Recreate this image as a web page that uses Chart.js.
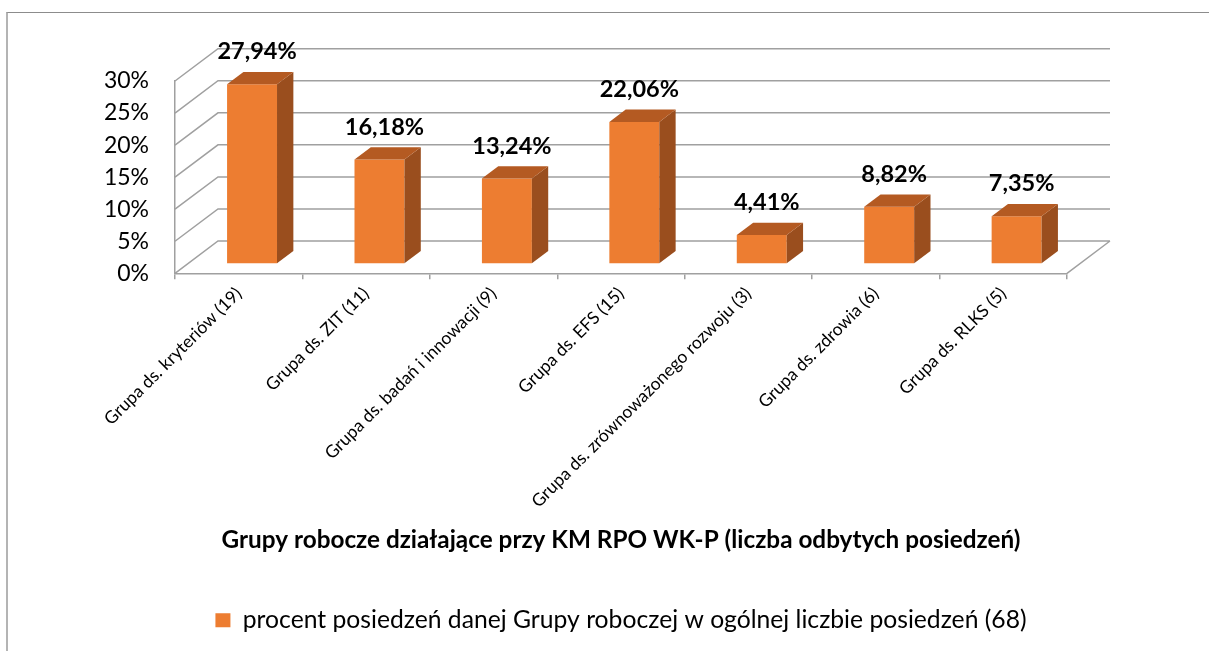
<!DOCTYPE html>
<html>
<head>
<meta charset="utf-8">
<title>Grupy robocze KM RPO WK-P</title>
<script src="https://cdn.jsdelivr.net/npm/chart.js@4"></script>
<style>
  html, body { margin: 0; padding: 0; background: #fff; overflow: hidden; }
  #frame { position: absolute; left: 6px; top: 12px; width: 1300px; height: 700px;
           border-top: 1px solid #8c8c8c; border-left: 2px solid #b4b4b4; }
  #wrap { position: absolute; left: 0; top: 0; width: 1209px; height: 680px; }
</style>
</head>
<body>
<div id="frame"></div>
<div id="wrap"><canvas id="chart"></canvas></div>
<script>
// dane wykresu
const categories = [
  'Grupa ds. kryteriów (19)',
  'Grupa ds. ZIT (11)',
  'Grupa ds. badań i innowacji (9)',
  'Grupa ds. EFS (15)',
  'Grupa ds. zrównoważonego rozwoju (3)',
  'Grupa ds. zdrowia (6)',
  'Grupa ds. RLKS (5)'
];
const percentValues = [27.94, 16.18, 13.24, 22.06, 4.41, 8.82, 7.35];
const yTicks = [0, 5, 10, 15, 20, 25, 30];
const seriesLabel = 'procent posiedzeń danej Grupy roboczej w ogólnej liczbie posiedzeń (68)';
const axisTitle = 'Grupy robocze działające przy KM RPO WK-P (liczba odbytych posiedzeń)';

// wygląd 3D
const depthX = 43, depthY = -32.3;
const barFront = 0.31, barBack = 0.69;
const frontColor = '#ED7D31';
const sideColor = '#9A4E1E';
const topColor = '#B45A22';
const gridColor = '#a0a0a0';

function fmt(v) {
  return v.toFixed(2).replace('.', ',') + '%';
}

// rysuje ściany, linie siatki i boki słupków
const bars3d = {
  id: 'bars3d',
  beforeDatasetsDraw(chart) {
    const { ctx, chartArea: a, scales: { y } } = chart;
    ctx.save();
    ctx.strokeStyle = gridColor;
    ctx.lineWidth = 1.5;
    ctx.beginPath();
    yTicks.forEach(v => {
      const py = y.getPixelForValue(v);
      ctx.moveTo(a.left, py);
      ctx.lineTo(a.left + depthX, py + depthY);
      ctx.lineTo(a.right + depthX, py + depthY);
    });
    ctx.moveTo(a.right, a.bottom);
    ctx.lineTo(a.right + depthX, a.bottom + depthY);
    ctx.stroke();
    ctx.restore();
    // przednia ściana słupka przesunięta w głąb
    ctx.save();
    ctx.translate(depthX * barFront, depthY * barFront);
  },
  afterDatasetsDraw(chart) {
    const { ctx } = chart;
    ctx.restore();
    const meta = chart.getDatasetMeta(0);
    const ox = depthX * barFront, oy = depthY * barFront;
    const sx = depthX * (barBack - barFront), sy = depthY * (barBack - barFront);
    ctx.save();
    meta.data.forEach((bar, i) => {
      const { x, y, base, width } = bar.getProps(['x', 'y', 'base', 'width'], true);
      const l = x - width / 2 + ox, r = x + width / 2 + ox, t = y + oy, b = base + oy;
      ctx.fillStyle = sideColor;
      ctx.beginPath();
      ctx.moveTo(r, t); ctx.lineTo(r + sx, t + sy); ctx.lineTo(r + sx, b + sy); ctx.lineTo(r, b);
      ctx.closePath(); ctx.fill();
      ctx.fillStyle = topColor;
      ctx.beginPath();
      ctx.moveTo(l, t); ctx.lineTo(l + sx, t + sy); ctx.lineTo(r + sx, t + sy); ctx.lineTo(r, t);
      ctx.closePath(); ctx.fill();
      ctx.fillStyle = '#000';
      ctx.font = 'bold 23.5px Lato';
      ctx.textAlign = 'center';
      ctx.textBaseline = 'middle';
      ctx.fillText(fmt(percentValues[i]), x + ox + 5, t + sy - 20);
    });
    ctx.restore();
  }
};

const ctx = document.getElementById('chart').getContext('2d');
new Chart(ctx, {
  type: 'bar',
  data: {
    labels: categories,
    datasets: [{
      label: seriesLabel,
      data: percentValues,
      backgroundColor: frontColor,
      borderWidth: 0,
      categoryPercentage: 0.8,
      barPercentage: 0.49,
      clip: false
    }]
  },
  options: {
    responsive: true,
    maintainAspectRatio: false,
    animation: false,
    layout: { padding: { top: 81, right: 142, bottom: 37.5, left: 0 } },
    scales: {
      y: {
        min: 0, max: 30,
        ticks: {
          stepSize: 5,
          callback: v => v + '%',
          font: { family: 'Lato', size: 23 },
          color: '#000',
          padding: 18
        },
        grid: { display: false },
        border: { display: true, color: gridColor, width: 1.5 },
        afterFit: s => { s.width = 175; }
      },
      x: {
        ticks: {
          font: { family: 'Lato', size: 17.5 },
          color: '#000',
          maxRotation: 45, minRotation: 45,
          autoSkip: false,
          padding: 4
        },
        grid: { display: true, drawOnChartArea: false, tickLength: 6, color: gridColor, lineWidth: 1.5 },
        border: { display: true, color: gridColor, width: 1.5 },
        title: {
          display: true,
          text: axisTitle,
          font: { family: 'Lato', size: 24.3, weight: 'bold' },
          color: '#000',
          padding: { top: 0, bottom: 43.5 }
        },
        afterFit: s => { s.height = 324.5; }
      }
    },
    plugins: {
      legend: {
        position: 'bottom',
        fullSize: false,
        labels: {
          font: { family: 'Lato', size: 24.7 },
          color: '#000',
          boxWidth: 15,
          boxHeight: 14,
          padding: 10
        }
      },
      tooltip: { enabled: false }
    }
  },
  plugins: [bars3d]
});
</script>
</body>
</html>
